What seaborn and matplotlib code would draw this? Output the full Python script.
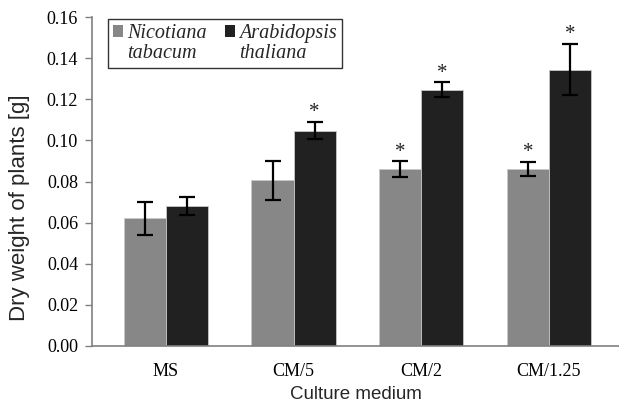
import matplotlib
matplotlib.use('Agg')
import matplotlib.pyplot as plt
import matplotlib.patches as mpatches
import seaborn as sns
import pandas as pd
import numpy as np

# data
media = ['MS', 'CM/5', 'CM/2', 'CM/1.25']
species = ['Nicotiana tabacum', 'Arabidopsis thaliana']
tabacum = [0.062, 0.0805, 0.086, 0.086]
tabacum_err = [0.008, 0.0097, 0.0039, 0.0035]
thaliana = [0.068, 0.1048, 0.1247, 0.1345]
thaliana_err = [0.0045, 0.0043, 0.0036, 0.0126]
tabacum_star = [False, False, True, True]
thaliana_star = [False, True, True, True]
colors = ['#878787', '#212121']

df = pd.DataFrame({
    'medium': media * 2,
    'species': [species[0]] * 4 + [species[1]] * 4,
    'weight': tabacum + thaliana,
})

sns.set_style('white')
plt.rcParams['font.family'] = ['Liberation Serif', 'DejaVu Serif']

fig = plt.figure(figsize=(6.19, 4.05), dpi=100)
ax = fig.add_axes([0.1486, 0.1464, 0.8514, 0.8109])

sns.barplot(data=df, x='medium', y='weight', hue='species', order=media,
            hue_order=species, palette=colors, width=0.66, errorbar=None,
            edgecolor='#c8c8c8', linewidth=0.6, legend=False, ax=ax)

# error bars + significance stars on each bar
errs = [tabacum_err, thaliana_err]
stars = [tabacum_star, thaliana_star]
vals = [tabacum, thaliana]
bar_groups = list(ax.containers)
for j, cont in enumerate(bar_groups):
    for i, bar in enumerate(cont.patches):
        xc = bar.get_x() + bar.get_width() / 2
        ax.errorbar(xc, vals[j][i], yerr=errs[j][i], fmt='none', ecolor='black',
                    elinewidth=1.6, capsize=5.5, capthick=1.6)
        if stars[j][i]:
            ax.text(xc, vals[j][i] + errs[j][i] - 0.0002, '*', ha='center', va='bottom',
                    fontsize=15, color='#222222')

ax.set_ylim(0, 0.16)
ax.set_yticks(np.arange(0, 0.161, 0.02))
ax.set_yticklabels([f'{v:.2f}' for v in np.arange(0, 0.161, 0.02)])
ax.set_xlim(-0.58, 3.55)

for s in ['top', 'right']:
    ax.spines[s].set_visible(False)
for s in ['left', 'bottom']:
    ax.spines[s].set_color('#808080')
    ax.spines[s].set_linewidth(1.2)

ax.tick_params(axis='y', which='both', left=True, length=5, width=1, color='#808080',
               labelsize=13, labelcolor='black', pad=5)
ax.tick_params(axis='x', bottom=False, labelsize=13, labelcolor='black', pad=9)

ax.set_xlabel('Culture medium', fontsize=13.5, family='Liberation Sans', labelpad=4)
ax.set_ylabel('Dry weight of plants [g]', fontsize=16, family='Liberation Sans')
ax.yaxis.set_label_coords(-0.117, 0.42)

# legend: square next to the first line of each name
first = [s.split(' ')[0] for s in species]
second = [s.split(' ')[1] for s in species]
handles = [mpatches.Patch(facecolor=colors[0], edgecolor='none'),
           mpatches.Patch(facecolor='none', edgecolor='none'),
           mpatches.Patch(facecolor=colors[1], edgecolor='none'),
           mpatches.Patch(facecolor='none', edgecolor='none')]
labels = [first[0], second[0], first[1], second[1]]
leg = ax.legend(handles, labels, loc='upper left', bbox_to_anchor=(0.031, 0.994),
                ncol=2, frameon=True, fancybox=False, edgecolor='black',
                handlelength=0.5, handleheight=0.55, handletextpad=0.2,
                columnspacing=0.9, borderpad=0.25, labelspacing=0.05,
                borderaxespad=0,
                prop={'family': 'Liberation Serif', 'style': 'italic', 'size': 14.5})
leg.get_frame().set_linewidth(1.0)

plt.savefig('out.png', dpi=100)
